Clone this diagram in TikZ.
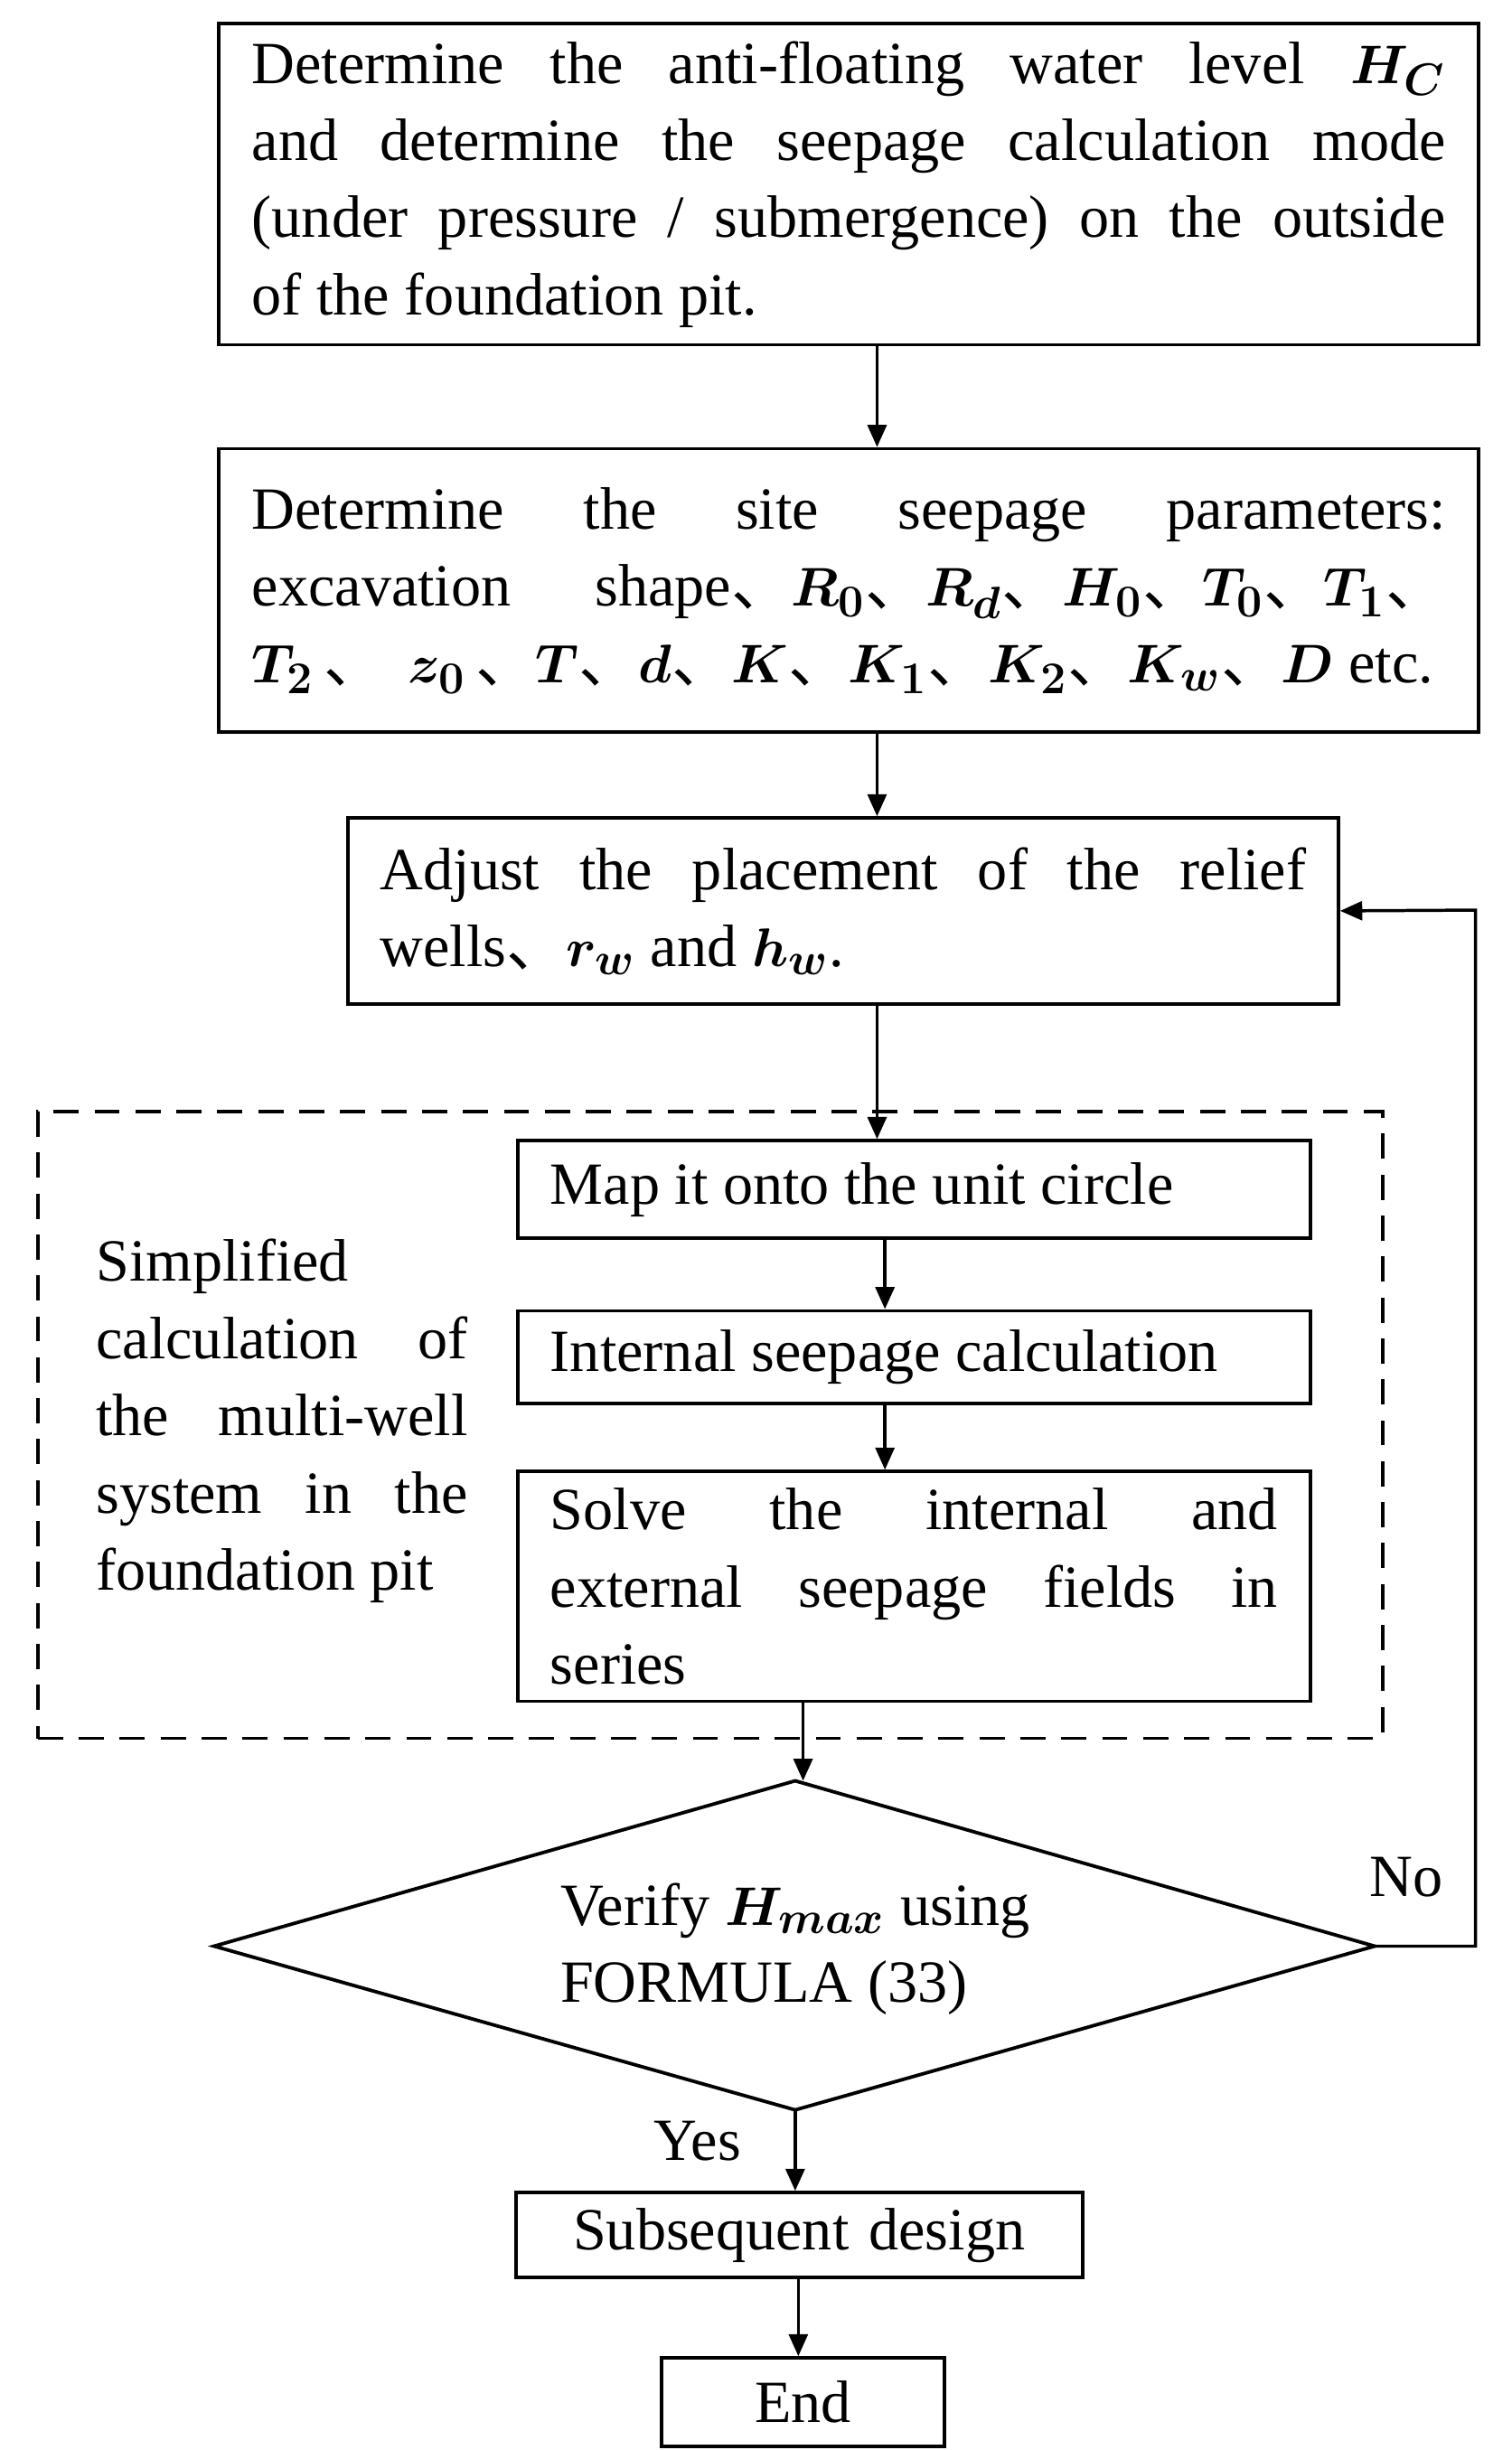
\documentclass[tikz,border=0pt]{standalone}
\usepackage{amsmath,bm}
\usepackage{fontspec}
\setmainfont{Liberation Serif}
\newfontfamily\cjk{Noto Sans CJK SC}
\usetikzlibrary{arrows.meta,calc}
\newcommand{\dn}{{\cjk 、}}
\newcommand{\fs}{\fontsize{19}{24.5}\selectfont\hyphenpenalty=10000\exhyphenpenalty=10000\emergencystretch=3em}
\begin{document}
\begin{tikzpicture}[x=0.5pt,y=-0.5pt,
  box/.style={draw,line width=1.1pt,inner xsep=10pt,inner ysep=3pt,align=justify,font=\fs},
  arr/.style={line width=1pt,-{Triangle[length=7pt,width=6pt]}},
  lbl/.style={font=\fs}]
\useasboundingbox (0,0) rectangle (960,1556);
\node[box,minimum width=400pt,minimum height=102pt,text width=379pt] (b1) at (539,117)
 {Determine the anti-floating water level $\bm{H_C}$\linebreak and determine the seepage calculation mode\linebreak (under pressure / submergence) on the outside\linebreak of the foundation pit.};
\node[box,minimum width=400pt,minimum height=90pt,text width=379pt] (b2) at (539,375)
 {Determine the site seepage parameters: excavation shape\dn$\bm{R_0}$\dn$\bm{R_d}$\dn$\bm{H_0}$\dn$\bm{T_0}$\dn$\bm{T_1}$\dn\linebreak $\bm{T_2}$\,\dn\, $\bm{z_0}$\,\dn$\bm{T}$\dn$\bm{d}$\dn$\bm{K}$\dn$\bm{K_1}$\dn$\bm{K_2}$\dn$\bm{K_w}$\dn$\bm{D}$ etc.};
\node[box,minimum width=314.5pt,minimum height=59pt,text width=294pt] (b3) at (535.5,578.5)
 {Adjust the placement of the relief wells\dn$\bm{r_w}$ and $\bm{h_w}$.};
\node[draw,dash pattern=on 8pt off 5pt,line width=1.1pt,minimum width=427pt,minimum height=199pt] (dash) at (451,905) {};
\node[lbl,text width=118pt,align=justify,anchor=north west] (sl) at (54,780)
 {Simplified calculation of the multi-well system in the foundation pit};
\node[box,minimum width=251.5pt,minimum height=31pt,text width=231pt] (m1) at (580.5,755.5) {Map it onto the unit circle};
\node[box,minimum width=251.5pt,minimum height=29.5pt,text width=231pt] (m2) at (580.5,862) {Internal seepage calculation};
\node[box,minimum width=251.5pt,minimum height=73pt,text width=231pt] (m3) at (580.5,1007.5) {Solve the internal and\linebreak external seepage fields in\linebreak series};
\coordinate (dt) at (505,1131); \coordinate (db) at (505,1340);
\coordinate (dl) at (136,1236); \coordinate (dr) at (873,1236);
\draw[line width=1.1pt] (dt) -- (dr) -- (db) -- (dl) -- cycle;
\node[lbl,align=left] (dtext) at (505,1238) {Verify $\bm{H_{max}}$ using\\FORMULA (33)};
\node[box,minimum width=179pt,minimum height=27pt,align=center,text width=160pt] (s) at (507.5,1419.5) {Subsequent design};
\node[box,minimum width=88.5pt,minimum height=28pt,align=center,text width=70pt] (e) at (510,1525.5) {End};
\draw[arr] (557,220) coordinate(a1) -- (a1 |- b2.north);
\draw[arr] (557,466) coordinate(a2) -- (a2 |- b3.north);
\draw[arr] (557,638) coordinate(a3) -- (a3 |- m1.north);
\draw[arr] (562,787) coordinate(a4) -- (a4 |- m2.north);
\draw[arr] (562,892) coordinate(a5) -- (a5 |- m3.north);
\draw[arr] (510,1081) coordinate(a6) -- (a6 |- dt);
\draw[arr] (db) -- (s.north -| db);
\draw[arr] (507,1447) coordinate(a7) -- (a7 |- e.north);
\draw[arr] (dr) -- (937,1236) -- (937,578) -- (b3.east);
\node[lbl] at (893,1192) {No};
\node[lbl] at (443,1360) {Yes};
\end{tikzpicture}
\end{document}
